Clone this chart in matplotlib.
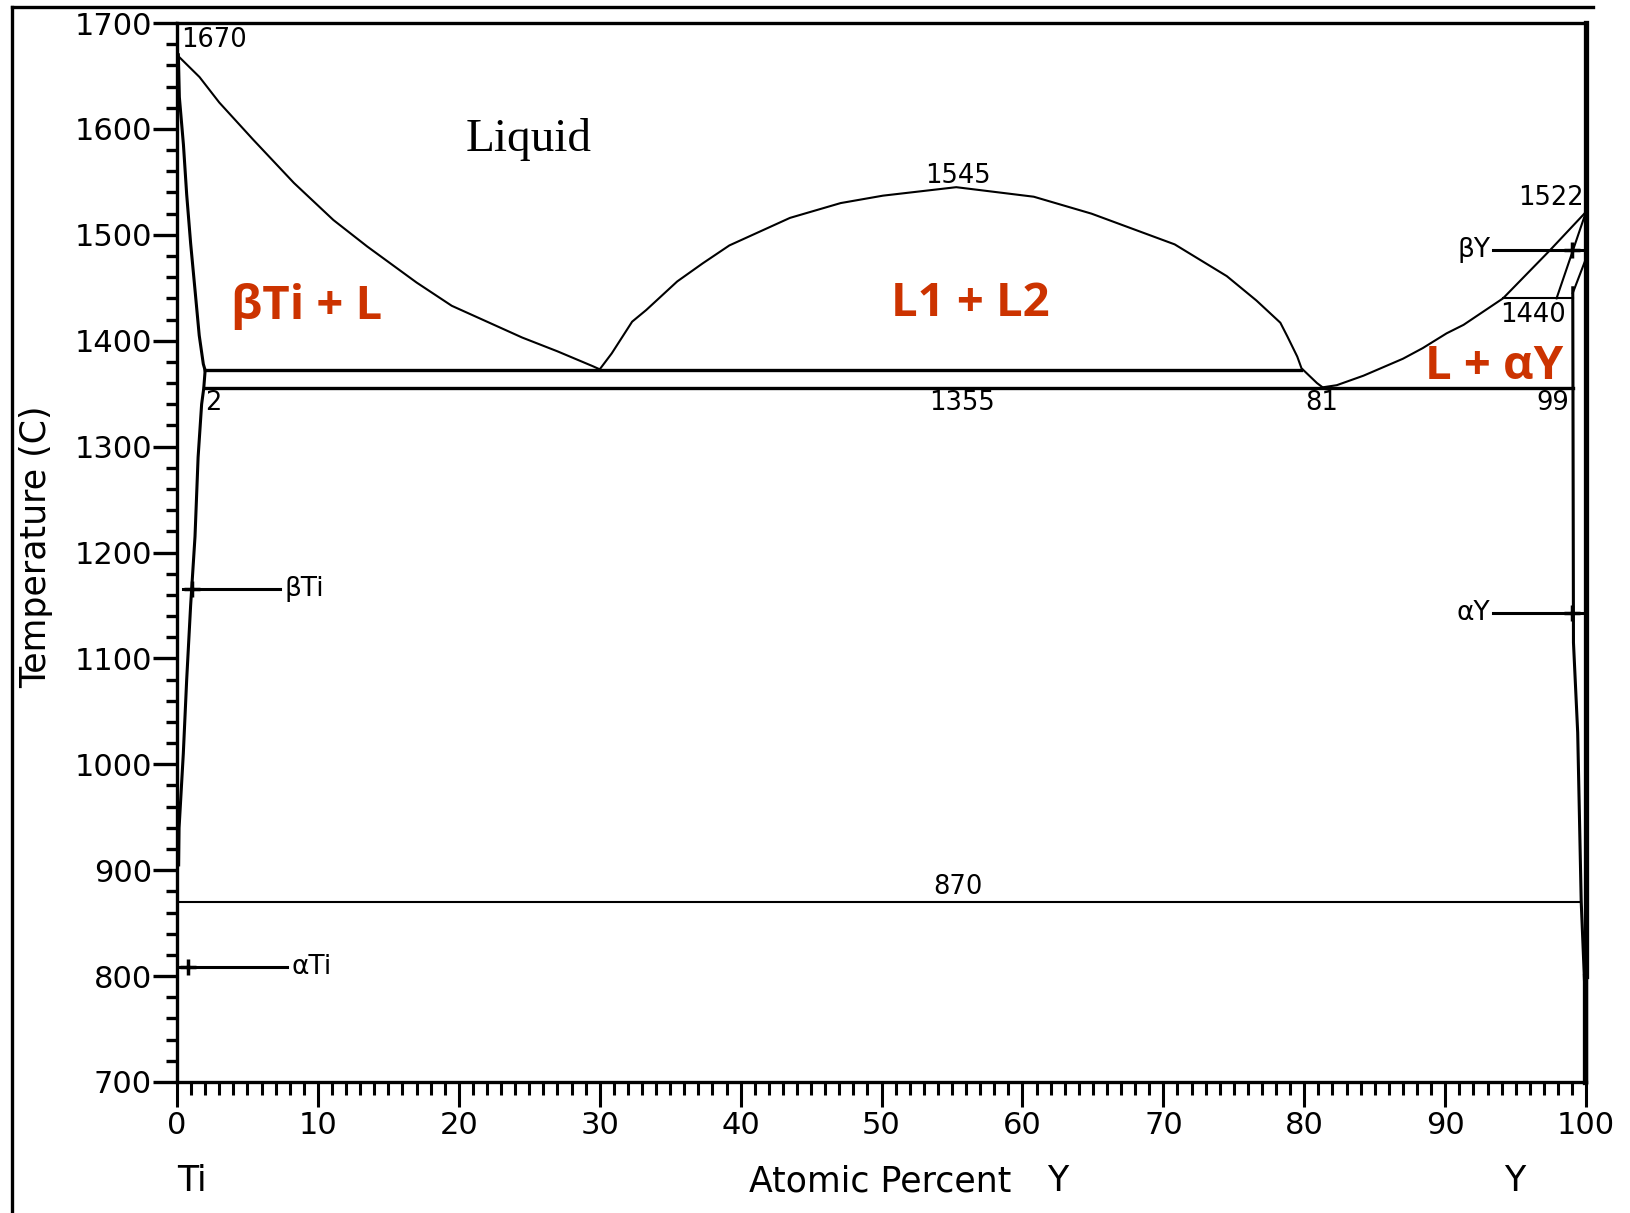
import matplotlib
matplotlib.use("Agg")
import matplotlib.pyplot as plt
from matplotlib.lines import Line2D
from matplotlib.ticker import MultipleLocator

# liquidus / phase boundaries (x = at.% Y, t = temperature C)
liq_left_x = [0, 1.6, 3.0, 5.4, 8.3, 11.1, 13.5, 17.0, 19.5, 22.0, 24.5, 27.0, 29.5, 30.0]
liq_left_t = [1670, 1649, 1625, 1590, 1549, 1514, 1489, 1455, 1433, 1418, 1403, 1390, 1376, 1373]

dome_x = [30.0, 30.85, 32.3, 33.3, 35.5, 37.3, 39.2, 43.5, 47.1, 50.1, 55.3, 60.8, 64.9,
          70.8, 74.5, 76.6, 78.3, 78.8, 79.5, 79.8, 80.9, 81.3]
dome_t = [1373, 1388, 1418, 1429, 1456, 1473, 1490, 1516, 1530, 1537, 1545, 1536, 1520,
          1491, 1461, 1438, 1417, 1404, 1385, 1374, 1360, 1356]

liq_right_x = [81.3, 82.3, 84.2, 87.0, 88.4, 90.1, 91.3, 94.1, 97.4, 99.8, 100]
liq_right_t = [1356, 1358, 1367, 1383, 1393, 1407, 1415, 1440, 1485, 1519, 1522]

bti_sol_x = [0.1, 0.17, 0.46, 0.69, 0.97, 1.28, 1.58, 1.87, 2.0]
bti_sol_t = [1670, 1630, 1585, 1538, 1492, 1448, 1405, 1378, 1372]

bti_solv_x = [2.0, 1.9, 1.75, 1.5, 1.28, 0.97, 0.69, 0.45, 0.15, 0.12]
bti_solv_t = [1372, 1355, 1340, 1290, 1215, 1150, 1080, 1010, 940, 905]

ay_solv_x = [99.05, 99.1, 99.4, 99.65, 99.9, 99.9]
ay_solv_t = [1450, 1115, 1030, 870, 790, 700]

by_sol_x = [97.9, 100]
by_sol_t = [1440, 1522]
ab_y_x = [99.05, 100]
ab_y_t = [1445, 1478]

pure_y_x = [100, 100]
pure_y_t = [1700, 800]
pure_y_low_x = [99.9, 99.9]
pure_y_low_t = [800, 700]

# invariant lines: (temperature, x start, x end)
monotectic = (1372, 2.0, 79.8)
eutectic = (1355, 1.9, 99.05)
eutectoid = (870, 0.0, 99.6)
metatectic = (1440, 94.1, 99.05)

# phase pointers: (label, temperature, x start, x end, marker x)
pointers = [("βTi", 1166, 0.4, 7.3, 1.1), ("αTi", 809, 0.15, 7.8, 0.8),
            ("βY", 1486, 93.4, 99.7, 99.0), ("αY", 1143, 93.4, 99.7, 99.0)]

# small numeric labels: (text, x, t)
num_labels = [("1670", 0.3, 1684), ("1545", 55.4, 1556), ("1522", 97.5, 1535),
              ("1440", 96.2, 1424), ("1355", 55.7, 1341), ("81", 81.2, 1341),
              ("99", 97.6, 1341), ("2", 2.6, 1341), ("870", 55.4, 884)]

red = "#CC3300"

fig = plt.figure(figsize=(16.31, 12.13), dpi=100)
ax = fig.add_axes([0.1085, 0.108, 0.864, 0.873])

lw_thin = 1.5
ax.plot(liq_left_x, liq_left_t, color="k", lw=lw_thin)
ax.plot(dome_x, dome_t, color="k", lw=lw_thin)
ax.plot(liq_right_x, liq_right_t, color="k", lw=lw_thin, clip_on=False)
ax.plot(bti_sol_x, bti_sol_t, color="k", lw=2.2)
ax.plot(bti_solv_x, bti_solv_t, color="k", lw=2.2)
ax.plot(ay_solv_x, ay_solv_t, color="k", lw=2.2, clip_on=False)
ax.plot(by_sol_x, by_sol_t, color="k", lw=lw_thin, clip_on=False)
ax.plot(ab_y_x, ab_y_t, color="k", lw=lw_thin, clip_on=False)
ax.plot(pure_y_x, pure_y_t, color="k", lw=3.8, clip_on=False)
ax.plot(pure_y_low_x, pure_y_low_t, color="k", lw=3.8, clip_on=False)

for t, x0, x1 in [monotectic, eutectic]:
    ax.plot([x0, x1], [t, t], color="k", lw=2.4)
for t, x0, x1 in [eutectoid, metatectic]:
    ax.plot([x0, x1], [t, t], color="k", lw=lw_thin)

for name, t, x0, x1, xm in pointers:
    ax.plot([x0, x1], [t, t], color="k", lw=2.2)
    ax.plot([xm], [t], marker="+", color="k", ms=11, mew=2.5, clip_on=False)
    if x0 < 50:
        ax.text(x1 + 0.3, t, name, fontsize=19, ha="left", va="center")
    else:
        ax.text(x0 - 0.2, t, name, fontsize=19, ha="right", va="center")

for s, x, t in num_labels:
    ha = "left" if s == "1670" else "center"
    ax.text(x, t, s, fontsize=18.5, ha=ha, va="center")

ax.text(20.5, 1590, "Liquid", family="Liberation Serif", fontsize=34, ha="left", va="center")
ax.text(3.8, 1432, "βTi + L", family="Open Sans", fontweight="bold", fontsize=34,
        color=red, ha="left", va="center")
ax.text(56.3, 1435, "L1 + L2", family="Open Sans", fontweight="bold", fontsize=34,
        color=red, ha="center", va="center")
ax.text(98.4, 1376, "L + αY", family="Open Sans", fontweight="bold", fontsize=34,
        color=red, ha="right", va="center")

ax.set_xlim(0, 100)
ax.set_ylim(700, 1700)
ax.xaxis.set_major_locator(MultipleLocator(10))
ax.xaxis.set_minor_locator(MultipleLocator(1))
ax.yaxis.set_major_locator(MultipleLocator(100))
ax.yaxis.set_minor_locator(MultipleLocator(20))
ax.tick_params(axis="x", which="major", direction="out", length=18, width=2.2, pad=3,
               labelsize=22)
ax.tick_params(axis="x", which="minor", direction="out", length=9, width=2.2)
ax.tick_params(axis="y", which="major", direction="out", length=17, width=2.4, pad=1,
               labelsize=22)
ax.tick_params(axis="y", which="minor", direction="out", length=8, width=2.4)
for sp in ax.spines.values():
    sp.set_linewidth(2.4)

ax.set_ylabel("Temperature (C)", fontsize=25)
ax.yaxis.set_label_coords(-0.088, 0.505)

xt = ax.get_xaxis_transform()
ax.text(0, -0.0935, "Ti", transform=xt, fontsize=25, ha="left", va="center")
ax.text(40.6, -0.0935, "Atomic Percent", transform=xt, fontsize=25, ha="left", va="center")
ax.text(62.5, -0.0935, "Y", transform=xt, fontsize=25, ha="center", va="center")
ax.text(94.9, -0.0935, "Y", transform=xt, fontsize=25, ha="center", va="center")

# outer frame of the original figure
fig.add_artist(Line2D([0.0074, 0.0074], [0.0, 0.9942], transform=fig.transFigure,
                      color="k", lw=2.4))
fig.add_artist(Line2D([0.0074, 0.9767], [0.9942, 0.9942], transform=fig.transFigure,
                      color="k", lw=2.4))

fig.savefig("out.png", dpi=100)
